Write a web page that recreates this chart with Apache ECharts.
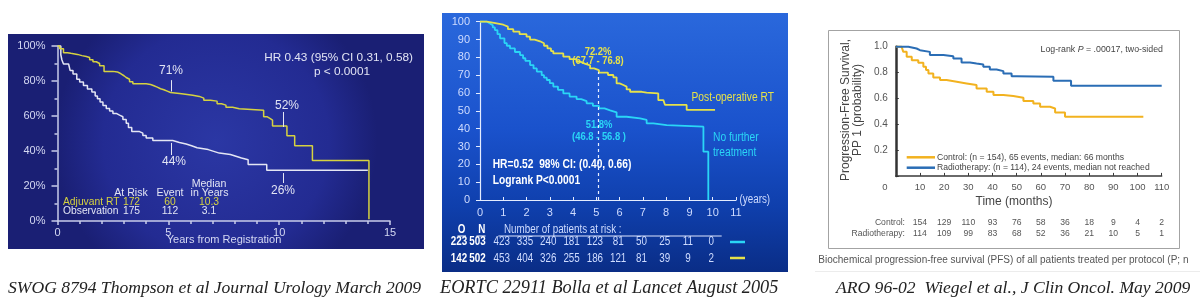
<!DOCTYPE html>
<html><head><meta charset="utf-8">
<script src="https://cdn.jsdelivr.net/npm/echarts@6/dist/echarts.min.js"></script>
<style>html,body{margin:0;padding:0;background:#fff}#c{width:1200px;height:308px}</style>
</head><body><div id="c"></div>
<script>
// ---------- Panel 1: SWOG 8794 (years, % free) ----------
const swogRT = [[0,100],[0.1,98.5],[0.27,96.2],[0.45,95.8],[0.6,95.2],[0.9,94.5],[1.1,94],[1.3,93.4],[1.45,92.2],[1.6,91],[1.75,90],[1.9,88.7],[2.1,85.5],[2.5,85.2],[2.7,84.6],[2.8,83.8],[2.9,83],[3.0,82],[3.1,81],[3.25,79.6],[3.4,78.4],[4.0,78],[4.2,77.3],[4.35,76.5],[4.5,75.6],[4.65,75],[4.8,74.2],[4.95,73.4],[5.1,72.7],[5.6,71.8],[6.1,71.2],[6.4,70.2],[6.6,69],[6.9,68.5],[7.2,67],[7.4,66.2],[7.6,65],[7.9,64.2],[8.2,63.3],[9.3,59.6],[9.45,58.5],[9.6,57.7],[9.7,54.3],[10.35,48.7],[10.7,43],[11.5,34.6],[14.05,1]];
const swogObs = [[0,100],[0.15,95],[0.2,92],[0.27,89.7],[0.5,88.7],[0.57,86],[0.7,84],[0.87,81],[1.0,79.5],[1.17,77.4],[1.35,75.5],[1.55,73.7],[1.7,71.5],[1.8,69.8],[1.92,68],[2.05,66],[2.2,64.3],[2.35,62.8],[2.5,61.5],[2.65,60.5],[2.8,59.6],[2.95,58],[3.1,55.8],[3.2,53.5],[3.35,51.1],[3.7,50.2],[3.85,48.8],[4.0,47.4],[4.3,46],[5.2,44.9],[5.5,44],[5.8,43],[6.05,41.9],[6.3,40.8],[6.8,39.8],[7.05,38.8],[7.3,38],[7.8,37],[8.05,36],[8.3,35],[8.6,32.3],[9.44,29],[14.0,29]];
const swogHeader = ['At Risk','Event','Median','in Years'];
const swogRows = [['Adjuvant RT','172','60','10.3'],['Observation','175','112','3.1']];
const swogNotes = ['71%','52%','44%','26%'];

// ---------- Panel 2: EORTC 22911 (years, %) ----------
const eortcRT = [[0,100],[0.29,99.4],[0.6,98.3],[1.0,97.2],[1.2,95.8],[1.43,94.4],[1.7,93],[2.0,91.6],[2.15,90],[2.35,89],[2.58,87.9],[2.75,86.5],[2.9,85],[3.05,83.5],[3.15,82.2],[3.58,80.4],[3.85,79],[4.15,77.6],[4.3,76.5],[4.5,75.5],[4.73,73.8],[4.9,72.8],[5.11,71.4],[5.5,70.1],[5.73,68.8],[5.87,65.4],[6.0,64.5],[6.16,63.6],[6.3,62],[6.45,60.7],[6.95,60.2],[7.16,59.8],[7.66,56],[7.88,55.1],[7.95,53.3],[8.88,50.5],[10.1,50.5]];
const eortcNone = [[0,100],[0.3,99],[0.43,98],[0.55,96.8],[0.64,95.3],[0.75,93],[0.86,90.7],[1.05,88],[1.15,86.5],[1.29,85],[1.5,83],[1.72,81.3],[1.85,79.5],[1.95,78],[2.15,75.7],[2.3,73.8],[2.44,72],[2.65,70],[2.75,68.6],[2.87,67.3],[3.0,65.5],[3.15,63.6],[3.35,61.8],[3.58,59.8],[3.85,58],[4.15,56.6],[4.35,55.5],[4.58,54.2],[4.85,52.8],[5.11,51.4],[5.35,50.3],[5.59,49.2],[5.87,46.7],[6.3,45.8],[6.88,44.9],[7.16,43],[7.45,42],[8.02,41.1],[9.6,27.1],[9.81,0]];
const eortcRiskYears = [1,2,3,4,5,6,7,8,9,10];
const eortcRiskNone = [423,335,240,181,123,81,50,25,11,0];
const eortcRiskRT = [453,404,326,255,186,121,81,39,9,2];
const eortcON = [['223','503'],['142','502']];

// ---------- Panel 3: ARO 96-02 (months, probability) ----------
const aroRT = [[0,1],[3.8,1],[5.2,0.986],[8.6,0.973],[10,0.96],[14.1,0.935],[19.7,0.927],[23.8,0.909],[27.2,0.878],[30.7,0.87],[33.4,0.862],[36.2,0.845],[38.9,0.824],[41.7,0.811],[44.5,0.793],[47.9,0.772],[50,0.767],[65.2,0.736],[72.5,0.698],[110,0.698]];
const aroControl = [[0,1],[2.4,1],[3.1,0.96],[4.5,0.922],[6.6,0.896],[9.3,0.876],[11.4,0.845],[12.5,0.82],[13.5,0.793],[15.5,0.762],[18.3,0.742],[21,0.729],[25.2,0.716],[29.3,0.703],[33.4,0.677],[37.6,0.651],[40.4,0.626],[44.5,0.618],[48.6,0.605],[52.8,0.579],[56.9,0.561],[59.7,0.535],[63.8,0.522],[65.9,0.491],[70,0.458],[102.4,0.458]];
const aroRiskMonths = [10,20,30,40,50,60,70,80,90,100,110];
const aroRiskControl = [154,129,110,93,76,58,36,18,9,4,2];
const aroRiskRT = [114,109,99,83,68,52,36,21,10,5,1];
const aroNames = ['Control: (n = 154), 65 events, median: 66 months','Radiotherapy: (n = 114), 24 events, median not reached'];

const captions = ['SWOG 8794 Thompson et al Journal Urology March 2009','EORTC 22911 Bolla et al Lancet August 2005','ARO 96-02  Wiegel et al., J Clin Oncol. May 2009'];

// ---------- styling ----------
const FS = '"Liberation Sans", Arial, sans-serif';
const FSER = '"Liberation Serif", "Times New Roman", serif';
const NARROW = 0.82;
const Y1 = '#d6d240', W1 = '#e4e6f4', AX1 = '#c9cdea';
const Y2 = '#e6e24a', C2 = '#2ad6f6', AX2 = '#e4ecff', L2 = '#cfdcff';
const Y3 = '#f2b21f', B3 = '#2a6db5';

function T(text, x, y, size, color, align, opt) {
  opt = opt || {};
  const font = (opt.italic ? 'italic ' : '') + (opt.bold ? 'bold ' : '') + size + 'px ' + (opt.family || FS);
  const st = {text: text, fill: color, font: font, align: align || 'left', verticalAlign: 'middle', textAlign: align || 'left', textVerticalAlign: 'middle'};
  if (opt.rich) st.rich = opt.rich;
  const el = {type: 'text', x: x, y: y, z: 100, rotation: opt.rotation || 0, style: st};
  if (opt.sx) { el.scaleX = opt.sx; }
  return el;
}
function L(x1, y1, x2, y2, color, w, z) {
  return {type: 'line', z: z == null ? 100 : z, shape: {x1: x1, y1: y1, x2: x2, y2: y2}, style: {stroke: color, lineWidth: w || 1}};
}

const chart = echarts.init(document.getElementById('c'), null, {renderer: 'canvas'});

const lineBase = {type: 'line', step: 'end', symbol: 'none', showSymbol: false, animation: false, clip: false};

const option = {
  animation: false,
  backgroundColor: '#ffffff',
  grid: [
    {left: 57.5, top: 46, width: 332.5, height: 175},
    {left: 480, top: 21.7, width: 256, height: 178.3},
    {left: 895.8, top: 46.7, width: 265.9, height: 129.2}
  ],
  xAxis: [
    {gridIndex: 0, type: 'value', min: 0, max: 15, interval: 5,
     axisLine: {lineStyle: {color: AX1, width: 1.5}},
     axisTick: {show: true, inside: false, length: 4, lineStyle: {color: AX1, width: 1.5}},
     minorTick: {show: true, splitNumber: 5, length: 3, lineStyle: {color: AX1, width: 1.5}},
     axisLabel: {color: '#d4d8f2', fontSize: 11, fontFamily: FS, margin: 6},
     splitLine: {show: false}, minorSplitLine: {show: false}},
    {gridIndex: 1, type: 'value', min: 0, max: 11, interval: 1,
     axisLine: {lineStyle: {color: AX2, width: 1.2}},
     axisTick: {show: true, inside: true, length: 3, lineStyle: {color: AX2}},
     axisLabel: {color: L2, fontSize: 11, fontFamily: FS, margin: 7},
     splitLine: {show: false}},
    {gridIndex: 2, type: 'value', min: 0, max: 110, interval: 10,
     axisLine: {lineStyle: {color: '#3a3a3a', width: 1.5}},
     axisTick: {show: true, inside: true, length: 3, lineStyle: {color: '#3a3a3a'}},
     axisLabel: {color: '#555', fontSize: 9.5, fontFamily: FS, margin: 6,
       formatter: function (v) { return v === 0 ? '{z|0}' : String(v); },
       rich: {z: {padding: [0, 22, 0, 0], fontSize: 9.5, color: '#555', fontFamily: FS}}},
     splitLine: {show: false}}
  ],
  yAxis: [
    {gridIndex: 0, type: 'value', min: 0, max: 100, interval: 20,
     axisLine: {show: true, lineStyle: {color: AX1, width: 1.5}},
     axisTick: {show: true, inside: false, length: 6, lineStyle: {color: AX1, width: 1.5}},
     minorTick: {show: true, splitNumber: 2, length: 3, lineStyle: {color: AX1, width: 1.5}},
     axisLabel: {color: '#d4d8f2', fontSize: 11, fontFamily: FS, margin: 12, formatter: '{value}%'},
     splitLine: {show: false}, minorSplitLine: {show: false}},
    {gridIndex: 1, type: 'value', min: 0, max: 100, interval: 10,
     axisLine: {show: true, lineStyle: {color: AX2, width: 1.2}},
     axisTick: {show: true, inside: false, length: 4, lineStyle: {color: AX2}},
     axisLabel: {color: L2, fontSize: 11, fontFamily: FS, margin: 10},
     splitLine: {show: false}},
    {gridIndex: 2, type: 'value', min: 0, max: 1, interval: 0.2,
     axisLine: {show: true, lineStyle: {color: '#333', width: 2.5}},
     axisTick: {show: true, inside: true, length: 3, lineStyle: {color: '#333'}},
     axisLabel: {color: '#555', fontSize: 10, fontFamily: FS, margin: 8,
       formatter: function (v) { return v === 0 ? '' : v.toFixed(1); }},
     splitLine: {show: false}}
  ],
  series: [
    Object.assign({}, lineBase, {name: 'Observation', xAxisIndex: 0, yAxisIndex: 0, data: swogObs,
      lineStyle: {color: W1, width: 1.5},
      markLine: {silent: true, symbol: 'none', animation: false, label: {show: false}, lineStyle: {color: W1, width: 1, type: 'solid'},
        data: [[{coord: [5.12, 44.6]}, {coord: [5.12, 37.7]}], [{coord: [10.17, 27.4]}, {coord: [10.17, 21.7]}]]}}),
    Object.assign({}, lineBase, {name: 'Adjuvant RT', xAxisIndex: 0, yAxisIndex: 0, data: swogRT,
      lineStyle: {color: Y1, width: 1.5},
      markLine: {silent: true, symbol: 'none', animation: false, label: {show: false}, lineStyle: {color: W1, width: 1, type: 'solid'},
        data: [[{coord: [5.12, 80.5]}, {coord: [5.12, 74]}], [{coord: [10.17, 62.3]}, {coord: [10.17, 53.7]}]]}}),
    Object.assign({}, lineBase, {name: 'No further treatment', xAxisIndex: 1, yAxisIndex: 1, data: eortcNone,
      lineStyle: {color: C2, width: 1.8},
      markLine: {silent: true, symbol: 'none', animation: false, label: {show: false}, lineStyle: {color: '#e8eeff', width: 1.2, type: [3, 3]},
        data: [[{coord: [5.08, 0]}, {coord: [5.08, 71.8]}]]}}),
    Object.assign({}, lineBase, {name: 'Post-operative RT', xAxisIndex: 1, yAxisIndex: 1, data: eortcRT,
      lineStyle: {color: Y2, width: 1.8}}),
    Object.assign({}, lineBase, {name: aroNames[0], xAxisIndex: 2, yAxisIndex: 2, data: aroControl,
      itemStyle: {color: Y3}, lineStyle: {color: Y3, width: 2},
      markLine: {silent: true, symbol: 'none', animation: false, label: {show: false}, lineStyle: {color: '#555', width: 1, type: [1.5, 2]},
        data: [[{coord: [0, 0.5]}, {coord: [112.6, 0.5]}]]}}),
    Object.assign({}, lineBase, {name: aroNames[1], xAxisIndex: 2, yAxisIndex: 2, data: aroRT,
      itemStyle: {color: B3}, lineStyle: {color: B3, width: 2}})
  ]
};
chart.setOption(option);

// ---------- graphic layer ----------
const g = [];
g.push({type: 'rect', z: -5, shape: {x: 8, y: 34, width: 416, height: 215},
  style: {fill: {type: 'radial', x: 0.5, y: 0.5, r: 0.75, colorStops: [{offset: 0, color: '#2b37a4'}, {offset: 0.7, color: '#232b92'}, {offset: 1, color: '#1a1f74'}]}}});
g.push({type: 'rect', z: -5, shape: {x: 442, y: 13, width: 346, height: 259},
  style: {fill: {type: 'linear', x: 0, y: 0, x2: 0, y2: 1, colorStops: [{offset: 0, color: '#2a68dc'}, {offset: 0.45, color: '#1a52cc'}, {offset: 0.75, color: '#0f3fac'}, {offset: 1, color: '#0a2d86'}]}}});
g.push({type: 'rect', z: -5, shape: {x: 828.5, y: 30.5, width: 351, height: 218}, style: {fill: '#ffffff', stroke: '#a3a3a3', lineWidth: 1}});
g.push(L(815, 271.5, 1200, 271.5, '#ececec', 1, -4));

// panel 1 texts
g.push(T('HR 0.43 (95% CI 0.31, 0.58)', 413, 57.3, 11.8, '#e2e4f4', 'right'));
g.push(T('p < 0.0001', 342, 72, 11.8, '#e2e4f4', 'center'));
g.push(T(swogNotes[0], 171, 70.7, 12, '#e2e4f4', 'center'));
g.push(T(swogNotes[1], 287, 106, 12, '#e2e4f4', 'center'));
g.push(T(swogNotes[2], 174, 162, 12, '#e2e4f4', 'center'));
g.push(T(swogNotes[3], 283, 190.7, 12, '#e2e4f4', 'center'));
g.push(T(swogHeader[0], 131, 192.7, 10.6, '#e2e4f4', 'center'));
g.push(T(swogHeader[1], 170, 192.7, 10.6, '#e2e4f4', 'center'));
g.push(T(swogHeader[2], 209, 184, 10.6, '#e2e4f4', 'center'));
g.push(T(swogHeader[3], 209.5, 192.7, 10.6, '#e2e4f4', 'center'));
const swogRowY = [201.7, 210.7], swogRowC = [Y1, '#e2e4f4'];
swogRows.forEach(function (r, i) {
  g.push(T(r[0], 63, swogRowY[i], 10.3, swogRowC[i], 'left'));
  g.push(T(r[1], 131.5, swogRowY[i], 10.3, swogRowC[i], 'center'));
  g.push(T(r[2], 170, swogRowY[i], 10.3, swogRowC[i], 'center'));
  g.push(T(r[3], 209, swogRowY[i], 10.3, swogRowC[i], 'center'));
});
g.push(T('Years from Registration', 224, 240, 11, '#d4d8f2', 'center'));

// panel 2 texts (narrow face emulated by horizontal scale)
const N = {sx: NARROW};
const NB = {sx: NARROW, bold: true};
g.push(T('72.2%', 598, 51.7, 11.5, Y2, 'center', NB));
g.push(T('(67.7 - 76.8)', 598, 60.7, 11.5, Y2, 'center', NB));
g.push(T('51.8%', 599, 125, 11.5, C2, 'center', NB));
g.push(T('(46.8 - 56.8 )', 599, 136.7, 11.5, C2, 'center', NB));
g.push(T('HR=0.52  98% CI: (0.40, 0.66)', 492.7, 165, 12.5, '#ffffff', 'left', NB));
g.push(T('Logrank P<0.0001', 492.7, 181, 12.5, '#ffffff', 'left', NB));
g.push(T('Post-operative RT', 691.5, 97.7, 12.5, Y2, 'left', N));
g.push(T('No further', 713, 137.7, 12.5, C2, 'left', N));
g.push(T('treatment', 713, 152.7, 12.5, C2, 'left', N));
g.push(T('(years)', 739.5, 200, 12, L2, 'left', N));
g.push(T('O', 461.7, 230, 12, '#ffffff', 'center', NB));
g.push(T('N', 481.7, 230, 12, '#ffffff', 'center', NB));
g.push(L(457.5, 236, 466, 236, '#ffffff', 1));
g.push(L(476.5, 236, 485.5, 236, '#ffffff', 1));
g.push(T('Number of patients at risk :', 504, 230, 12, L2, 'left', N));
g.push(L(498.3, 236, 721.7, 236, '#dfe6ff', 1));
const eRowY = [242, 259];
eortcON.forEach(function (r, i) {
  g.push(T(r[0], 459, eRowY[i], 12, '#ffffff', 'center', NB));
  g.push(T(r[1], 477.5, eRowY[i], 12, '#ffffff', 'center', NB));
});
[eortcRiskNone, eortcRiskRT].forEach(function (arr, i) {
  arr.forEach(function (v, k) {
    const px = chart.convertToPixel({xAxisIndex: 1}, eortcRiskYears[k]);
    g.push(T(String(v), px - 1.5, eRowY[i], 12, L2, 'center', N));
  });
});
g.push(L(730, 242, 745, 242, C2, 2.5));
g.push(L(730, 258, 745, 258, Y2, 2.5));

// panel 3 texts
g.push(T('Log-rank {i|P} = .00017, two-sided', 1163, 49.3, 8.8, '#444', 'right',
  {rich: {i: {fontStyle: 'italic', fontSize: 8.8, fontFamily: FS, fill: '#444', color: '#444'}}}));
g.push(T('Progression-Free Survival,\nPP 1 (probability)', 851.5, 110, 12, '#444', 'center', {rotation: Math.PI / 2}));
g.push(T('Time (months)', 1014, 201.7, 12, '#444', 'center'));
// legend
g.push(L(906.7, 157.3, 935, 157.3, Y3, 2.5));
g.push(L(906.7, 167.7, 935, 167.7, B3, 2.5));
g.push(T(aroNames[0], 937, 157.3, 8.6, '#444', 'left'));
g.push(T(aroNames[1], 937, 167.7, 8.6, '#444', 'left'));
const aRowY = [222.3, 233.3];
g.push(T('Control:', 905, aRowY[0], 8.6, '#555', 'right'));
g.push(T('Radiotherapy:', 905, aRowY[1], 8.6, '#555', 'right'));
[aroRiskControl, aroRiskRT].forEach(function (arr, i) {
  arr.forEach(function (v, k) {
    const px = chart.convertToPixel({xAxisIndex: 2}, aroRiskMonths[k]);
    g.push(T(String(v), px, aRowY[i], 8.6, '#555', 'center'));
  });
});
g.push(T('Biochemical progression-free survival (PFS) of all patients treated per protocol (P; n', 818.3, 260.7, 10, '#555', 'left'));

// captions
g.push(T(captions[0], 8, 288, 17.6, '#222', 'left', {italic: true, family: FSER}));
g.push(T(captions[1], 440, 288, 18.3, '#222', 'left', {italic: true, family: FSER}));
g.push(T(captions[2], 836, 288, 17.6, '#222', 'left', {italic: true, family: FSER}));

chart.setOption({graphic: {elements: g}});
</script>
</body></html>
